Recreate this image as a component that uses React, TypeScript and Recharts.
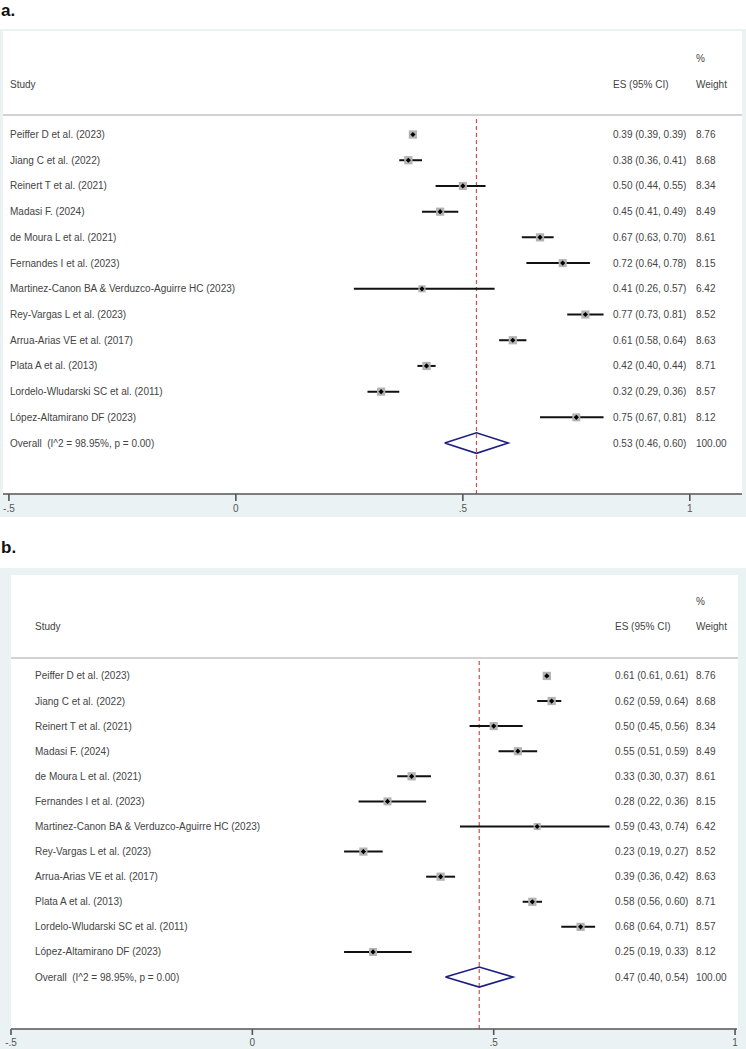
import { ScatterChart, Scatter, XAxis, YAxis, ErrorBar, ReferenceLine } from 'recharts';

// study rows, shared by both panels
const studies = [
  'Peiffer D et al. (2023)',
  'Jiang C et al. (2022)',
  'Reinert T et al. (2021)',
  'Madasi F. (2024)',
  'de Moura L et al. (2021)',
  'Fernandes I et al. (2023)',
  'Martinez-Canon BA & Verduzco-Aguirre HC (2023)',
  'Rey-Vargas L et al. (2023)',
  'Arrua-Arias VE et al. (2017)',
  'Plata A et al. (2013)',
  'Lordelo-Wludarski SC et al. (2011)',
  'López-Altamirano DF (2023)',
];
const weights = [8.76, 8.68, 8.34, 8.49, 8.61, 8.15, 6.42, 8.52, 8.63, 8.71, 8.57, 8.12];
const overallLabel = 'Overall  (I^2 = 98.95%, p = 0.00)';
const xTicks = [-0.5, 0, 0.5, 1];

// panel a
const esA = [0.39, 0.38, 0.5, 0.45, 0.67, 0.72, 0.41, 0.77, 0.61, 0.42, 0.32, 0.75];
const loA = [0.39, 0.36, 0.44, 0.41, 0.63, 0.64, 0.26, 0.73, 0.58, 0.4, 0.29, 0.67];
const hiA = [0.39, 0.41, 0.55, 0.49, 0.7, 0.78, 0.57, 0.81, 0.64, 0.44, 0.36, 0.81];
const overallA = [0.53, 0.46, 0.6];

// panel b
const esB = [0.61, 0.62, 0.5, 0.55, 0.33, 0.28, 0.59, 0.23, 0.39, 0.58, 0.68, 0.25];
const loB = [0.61, 0.59, 0.45, 0.51, 0.3, 0.22, 0.43, 0.19, 0.36, 0.56, 0.64, 0.19];
const hiB = [0.61, 0.64, 0.56, 0.59, 0.37, 0.36, 0.74, 0.27, 0.42, 0.6, 0.71, 0.33];
const overallB = [0.47, 0.4, 0.54];

const FONT = '"Liberation Sans", Arial, sans-serif';
const TEXT = '#444';
const FRAME = '#eaf2f3';
const NAVY = '#1c1f82';

const fmt = (v: number) => v.toFixed(2);
const fmtTick = (v: number) => (v === 0 ? '0' : String(v).replace('0.', '.'));

const Square = (props: any) => {
  const { cx, cy, payload } = props;
  const s = 2.8 * Math.sqrt(payload.w);
  return <rect x={cx - s / 2} y={cy - s / 2} width={s} height={s} fill="#b3b3b3" />;
};

const Dot = (props: any) => {
  const { cx, cy } = props;
  const r = 2.6;
  return <path d={`M${cx - r},${cy} L${cx},${cy - r} L${cx + r},${cy} L${cx},${cy + r} Z`} fill="#000" />;
};

const Empty = () => <g />;

const Panel = ({ lay, es, lo, hi, overall }: any) => {
  const n = studies.length;
  const rows = studies.map((_, i) => ({ x: es[i], y: i, w: weights[i], err: [es[i] - lo[i], hi[i] - es[i]] }));
  const h = 0.4;
  const diamond = [
    { x: overall[1], y: n },
    { x: overall[0], y: n - h },
    { x: overall[2], y: n },
    { x: overall[0], y: n + h },
    { x: overall[1], y: n },
  ];
  const yTicks = Array.from({ length: n + 1 }, (_, i) => i);

  const RowTick = (p: any) => {
    const i = p.payload.value;
    const name = i < n ? studies[i] : overallLabel;
    const ci = i < n ? `${fmt(es[i])} (${fmt(lo[i])}, ${fmt(hi[i])})` : `${fmt(overall[0])} (${fmt(overall[1])}, ${fmt(overall[2])})`;
    const wt = i < n ? weights[i].toFixed(2) : '100.00';
    const common = { y: p.y, fontSize: 10, fill: TEXT, fontFamily: FONT, dominantBaseline: 'central' as const };
    return (
      <g>
        <text {...common} x={lay.studyX} style={{ whiteSpace: 'pre' }}>{name}</text>
        <text {...common} x={lay.esX}>{ci}</text>
        <text {...common} x={lay.wX}>{wt}</text>
      </g>
    );
  };

  const head = (txt: string, x: number, y: number) => (
    <div style={{ position: 'absolute', left: x, top: y - lay.top - 6, height: 12, lineHeight: '12px', fontSize: 10, color: TEXT, whiteSpace: 'nowrap' }}>{txt}</div>
  );

  return (
    <div style={{ position: 'absolute', left: 0, top: lay.top, width: 746, height: lay.height, background: FRAME }}>
      <div style={{ position: 'absolute', left: lay.white[0], top: lay.white[1] - lay.top, width: lay.white[2] - lay.white[0], height: lay.white[3] - lay.white[1], background: '#fff' }} />
      <div style={{ position: 'absolute', left: lay.white[0], top: lay.sepY - lay.top, width: lay.white[2] - lay.white[0], height: 1.5, background: '#d2d2d2' }} />
      {head('%', lay.wX, lay.pctY)}
      {head('Study', lay.studyX, lay.headY)}
      {head('ES (95% CI)', lay.esX, lay.headY)}
      {head('Weight', lay.wX, lay.headY)}
      <div style={{ position: 'absolute', left: 0, top: 0 }}>
        <ScatterChart width={746} height={lay.height} margin={lay.margin}>
          <XAxis
            type="number"
            dataKey="x"
            domain={lay.xDomain}
            ticks={xTicks}
            tickFormatter={fmtTick}
            height={lay.axisH}
            tickSize={lay.tickSize}
            tickMargin={4}
            axisLine={{ stroke: '#555', strokeWidth: 1.6 }}
            tickLine={{ stroke: '#555', strokeWidth: 1.6 }}
            tick={{ fontSize: 10, fill: '#555', fontFamily: FONT }}
            allowDataOverflow
          />
          <YAxis
            type="number"
            dataKey="y"
            domain={lay.yDomain}
            ticks={yTicks}
            interval={0}
            reversed
            width={1}
            axisLine={false}
            tickLine={false}
            tick={RowTick}
            allowDataOverflow
          />
          <ReferenceLine x={overall[0]} stroke="#c9524f" strokeWidth={1.2} strokeDasharray="4 3" />
          <Scatter data={rows} shape={Square} isAnimationActive={false} />
          <Scatter data={rows} shape={Dot} isAnimationActive={false}>
            <ErrorBar dataKey="err" direction="x" width={0} stroke="#111" strokeWidth={2} />
          </Scatter>
          <Scatter
            data={diamond}
            shape={Empty}
            line={{ stroke: NAVY, strokeWidth: 1.6 }}
            lineType="joint"
            isAnimationActive={false}
          />
        </ScatterChart>
      </div>
    </div>
  );
};

const layA = {
  top: 29, height: 488, white: [3, 31, 742, 494], sepY: 114, pctY: 59, headY: 85,
  studyX: 10, esX: 613, wX: 696,
  margin: { top: 87, left: 2, right: 4, bottom: 0 }, axisH: 23, tickSize: 7,
  xDomain: [-0.513, 1.115], yDomain: [-0.72, 13.98],
};

const layB = {
  top: 568, height: 481, white: [11, 575, 738, 1029], sepY: 657, pctY: 602, headY: 627,
  studyX: 35, esX: 615, wX: 696,
  margin: { top: 91, left: 10, right: 9, bottom: 0 }, axisH: 20, tickSize: 6,
  xDomain: [-0.5, 1.004], yDomain: [-0.675, 14.07],
};

export default function App() {
  return (
    <div style={{ position: 'absolute', left: 0, top: 0, width: 746, height: 1049, background: '#fff', fontFamily: FONT, overflow: 'hidden' }}>
      <div style={{ position: 'absolute', left: 1, top: 1, fontSize: 17, fontWeight: 'bold', color: '#111' }}>a.</div>
      <Panel lay={layA} es={esA} lo={loA} hi={hiA} overall={overallA} />
      <div style={{ position: 'absolute', left: 1, top: 538, fontSize: 17, fontWeight: 'bold', color: '#111' }}>b.</div>
      <Panel lay={layB} es={esB} lo={loB} hi={hiB} overall={overallB} />
    </div>
  );
}
